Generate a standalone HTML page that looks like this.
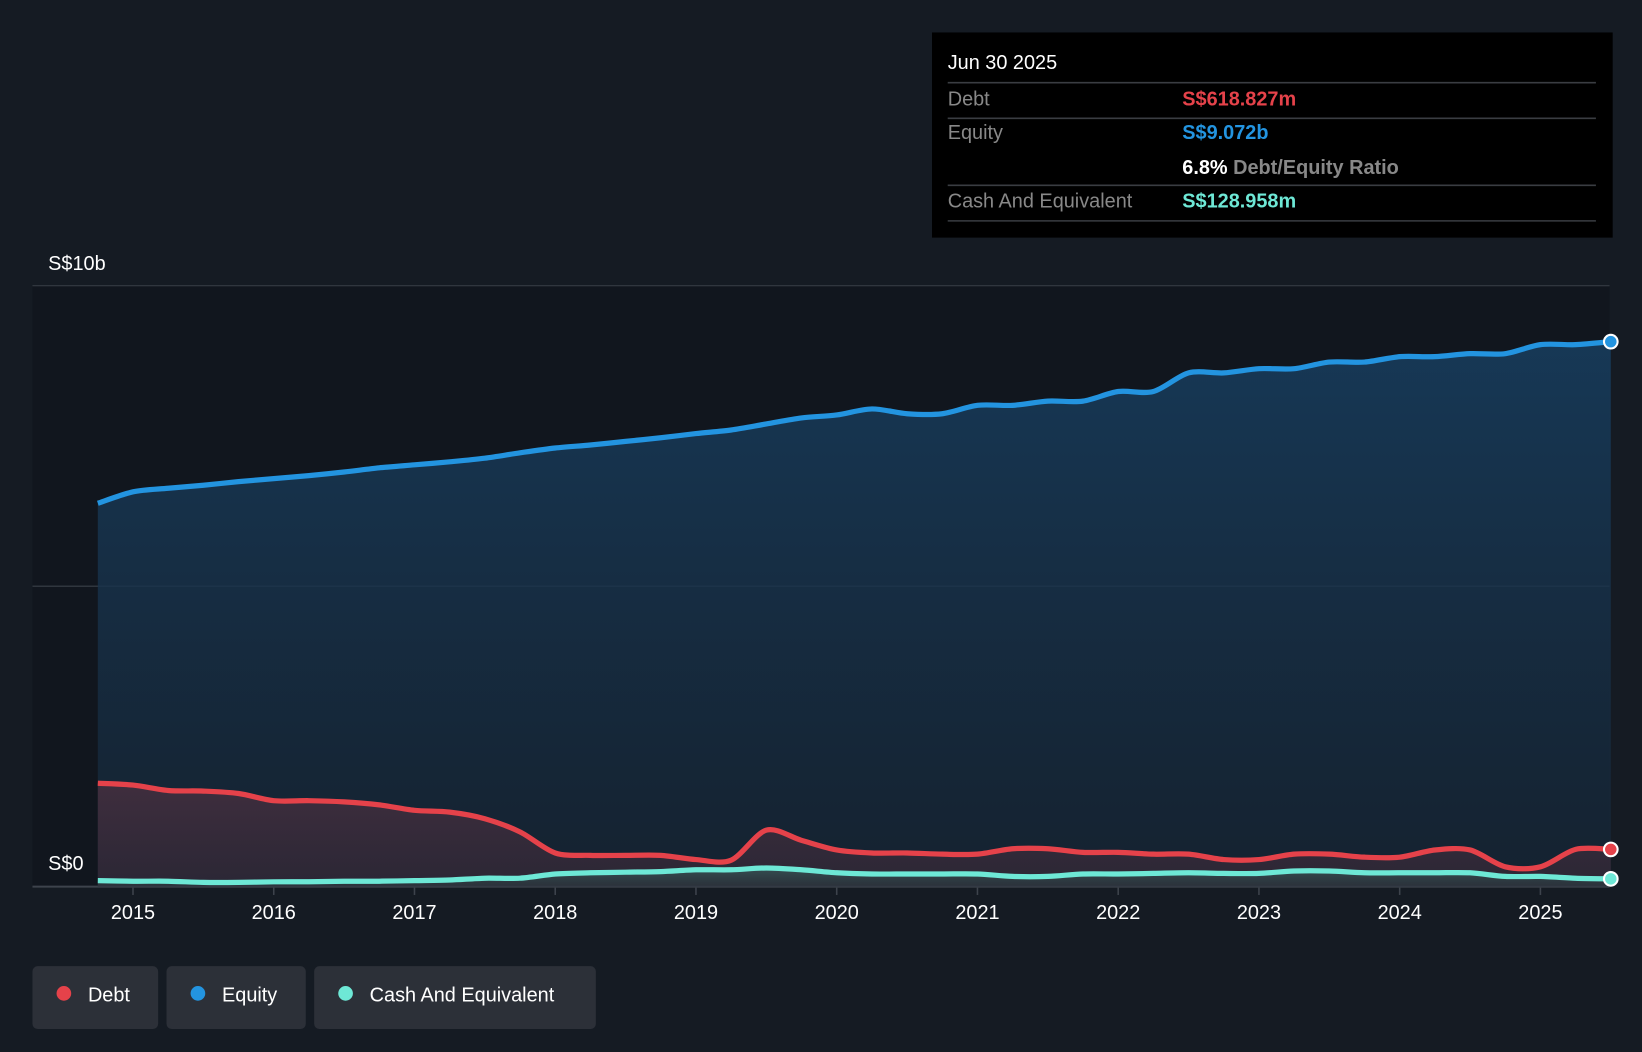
<!DOCTYPE html>
<html><head><meta charset="utf-8"><style>
html,body{margin:0;padding:0;background:#151b23;overflow:hidden}
svg{display:block;font-family:"Liberation Sans",sans-serif}
</style></head><body>
<svg id="chart" width="1642" height="1052" viewBox="0 0 1568 1005" preserveAspectRatio="none">
<defs>
<linearGradient id="eqG" x1="0" y1="0" x2="0" y2="1"><stop offset="0" stop-color="#173a59" stop-opacity="0.95"/><stop offset="1" stop-color="#172a3c" stop-opacity="0.6"/></linearGradient>
<linearGradient id="dbG" x1="0" y1="0" x2="0" y2="1"><stop offset="0" stop-color="#4a3040" stop-opacity="0.8"/><stop offset="1" stop-color="#3a2a38" stop-opacity="0.6"/></linearGradient>
<linearGradient id="caG" x1="0" y1="0" x2="0" y2="1"><stop offset="0" stop-color="#3a6a66" stop-opacity="0.6"/><stop offset="1" stop-color="#2a4a48" stop-opacity="0.3"/></linearGradient>
</defs>
<rect width="1568" height="1005" fill="#151b23"/>
<rect x="31" y="273" width="1506" height="574" fill="#11161e"/>
<g id="grid"></g>
<g id="series"></g>
<g id="xaxis"></g>
<text x="46" y="258" fill="#fff" font-size="19">S$10b</text>
<text x="46" y="831" fill="#fff" font-size="19">S$0</text>

<g>
<rect x="890" y="31" width="650" height="196" fill="#000"/>
<text x="905" y="66" fill="#fff" font-size="19">Jun 30 2025</text>
<line x1="905" y1="79" x2="1524" y2="79" stroke="#3a3d42" stroke-width="1.5"/>
<text x="905" y="101" fill="#888" font-size="19">Debt</text>
<text x="1129" y="101" fill="#e5424a" font-size="19" font-weight="bold">S$618.827m</text>
<line x1="905" y1="113" x2="1524" y2="113" stroke="#3a3d42" stroke-width="1.5"/>
<text x="905" y="133" fill="#888" font-size="19">Equity</text>
<text x="1129" y="133" fill="#2394e0" font-size="19" font-weight="bold">S$9.072b</text>
<text x="1129" y="166" fill="#fff" font-size="19" font-weight="bold">6.8%<tspan fill="#888" font-weight="bold"> Debt/Equity Ratio</tspan></text>
<line x1="905" y1="177" x2="1524" y2="177" stroke="#3a3d42" stroke-width="1.5"/>
<text x="905" y="198" fill="#888" font-size="19">Cash And Equivalent</text>
<text x="1129" y="198" fill="#6ee8d6" font-size="19" font-weight="bold">S$128.958m</text>
<line x1="905" y1="211" x2="1524" y2="211" stroke="#3a3d42" stroke-width="1.5"/>
</g>

<g>
<g><rect x="31" y="923" width="120" height="60" rx="5" fill="#2c3038"/><circle cx="61" cy="949" r="7" fill="#e5424a"/><text x="84" y="957" fill="#fff" font-size="19">Debt</text></g>
<g><rect x="159" y="923" width="133" height="60" rx="5" fill="#2c3038"/><circle cx="189" cy="949" r="7" fill="#2394e0"/><text x="212" y="957" fill="#fff" font-size="19">Equity</text></g>
<g><rect x="300" y="923" width="269" height="60" rx="5" fill="#2c3038"/><circle cx="330" cy="949" r="7" fill="#6ee8d6"/><text x="353" y="957" fill="#fff" font-size="19">Cash And Equivalent</text></g>
</g>
</svg>
<script>
const startYear = 2014.75;
const equity = [6.38,6.57,6.63,6.68,6.74,6.79,6.84,6.90,6.97,7.02,7.07,7.13,7.22,7.30,7.35,7.41,7.47,7.54,7.60,7.70,7.80,7.85,7.95,7.87,7.87,8.01,8.01,8.08,8.08,8.24,8.24,8.55,8.55,8.62,8.62,8.73,8.73,8.82,8.82,8.87,8.87,9.02,9.02,9.07];
const debt = [1.72,1.69,1.60,1.59,1.55,1.43,1.43,1.41,1.36,1.27,1.24,1.13,0.91,0.56,0.52,0.52,0.52,0.45,0.44,0.94,0.77,0.61,0.56,0.56,0.54,0.54,0.63,0.63,0.57,0.57,0.54,0.54,0.45,0.45,0.54,0.54,0.49,0.49,0.61,0.61,0.33,0.33,0.62,0.619];
const cash = [0.10,0.09,0.09,0.07,0.07,0.08,0.08,0.09,0.09,0.10,0.11,0.14,0.14,0.21,0.23,0.24,0.25,0.28,0.28,0.31,0.28,0.23,0.21,0.21,0.21,0.21,0.17,0.17,0.21,0.21,0.22,0.23,0.22,0.22,0.26,0.26,0.23,0.23,0.23,0.23,0.17,0.17,0.14,0.129];
const years = [2015,2016,2017,2018,2019,2020,2021,2022,2023,2024,2025];
const yTicks = [0,5,10];

const NS='http://www.w3.org/2000/svg';
const X = t => 127 + (t-2015)*134.4;
const Y = v => 847 - v*57.4;
function mk(tag, attrs, parent){const e=document.createElementNS(NS,tag);for(const k in attrs)e.setAttribute(k,attrs[k]);parent.appendChild(e);return e;}
function pathD(vals){
  const p=vals.map((v,i)=>[X(startYear+i*0.25),Y(v)]);
  let d=`M${p[0][0]},${p[0][1]}`;
  for(let i=0;i<p.length-1;i++){
    const p0=p[Math.max(i-1,0)],p1=p[i],p2=p[i+1],p3=p[Math.min(i+2,p.length-1)];
    const t=0.15;
    d+=` C${p1[0]+(p2[0]-p0[0])*t},${p1[1]+(p2[1]-p0[1])*t} ${p2[0]-(p3[0]-p1[0])*t},${p2[1]-(p3[1]-p1[1])*t} ${p2[0]},${p2[1]}`;
  }
  return {d,p};
}
const grid=document.getElementById('grid');
yTicks.forEach(v=>{
  const l=mk('line',{x1:31,x2:1537,y1:Y(v),y2:Y(v),stroke:v===0?'#3d434c':'#3a4048','stroke-width':v===0?2:1},grid);
  
  
});
const ser=document.getElementById('series');
[[equity,'#2394e0','url(#eqG)','equity'],[debt,'#e5424a','url(#dbG)','debt'],[cash,'#6ee8d6','url(#caG)','cash']].forEach(([vals,col,fill,name])=>{
  const {d,p}=pathD(vals);
  const last=p[p.length-1];
  const a=mk('path',{d:d+` L${last[0]},${Y(0)} L${p[0][0]},${Y(0)} Z`,fill:fill},ser);
  
  
  const l=mk('path',{d:d,fill:'none',stroke:col,'stroke-width':5,'stroke-linejoin':'round'},ser);
  
  
  const c=mk('circle',{cx:last[0],cy:last[1],r:6.5,fill:col,stroke:'#fff','stroke-width':2},ser);
  
  
});
const xa=document.getElementById('xaxis');
years.forEach(y=>{
  const t=mk('line',{x1:X(y),x2:X(y),y1:848,y2:855,stroke:'#3d434c','stroke-width':1.5},xa);
  
  
  const tx=mk('text',{x:X(y),y:878,fill:'#fff','font-size':19,'text-anchor':'middle'},xa);
  tx.textContent=y;
  
  
});
</script>
</body></html>
